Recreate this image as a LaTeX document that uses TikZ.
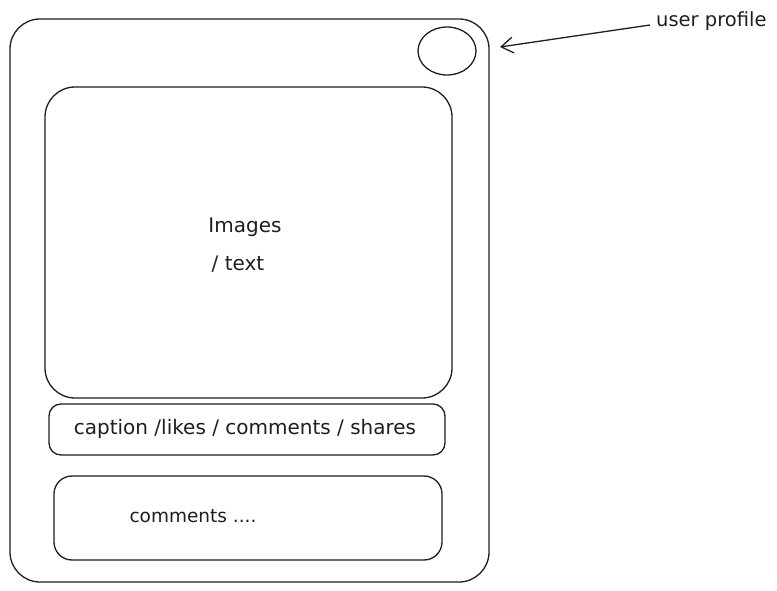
\documentclass[tikz,border=0pt]{standalone}
\usepackage{fontspec}
\setmainfont{DejaVu Sans}
\usetikzlibrary{arrows.meta,shapes.geometric}
\definecolor{ink}{HTML}{1E1E1E}
\begin{document}
\begin{tikzpicture}[x=1pt,y=-1pt,
  box/.style={draw=ink,line width=1.3pt},
  lbl/.style={text=ink,font=\fontsize{20}{24}\selectfont,inner sep=0pt}]
\useasboundingbox (0,0) rectangle (777,591);
\draw[box,rounded corners=30] (10,19) rectangle (489,582);
\node[box,ellipse,minimum width=58,minimum height=48,inner sep=0pt] (prof) at (447,51) {};
\draw[box,rounded corners=30] (45,87) rectangle (452,398);
\draw[box,rounded corners=12] (49,404) rectangle (445,455);
\draw[box,rounded corners=18] (54,476) rectangle (442,560);
\node[lbl] (img) at (245,227) {Images};
\node[lbl] (txt) at (238,264) {/ text};
\node[lbl] (cap) at (245,429) {caption /likes / comments / shares};
\node[lbl,font=\fontsize{18.5}{22}\selectfont] (com) at (193,516) {comments ....};
\node[lbl,anchor=west,font=\fontsize{19.5}{22}\selectfont] (up) at (656,21) {user profile};
\coordinate (tail) at (650,25);
\coordinate (tip) at (500,47);
\draw[ink,line width=1.3pt,-{Straight Barb[length=12pt,width=16pt]}] (tail) -- (tip);
\end{tikzpicture}
\end{document}
